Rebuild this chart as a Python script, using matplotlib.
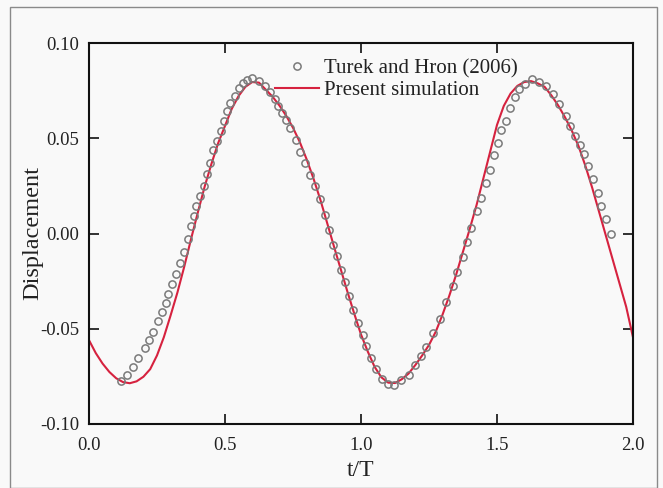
import matplotlib
matplotlib.use("Agg")
import matplotlib.pyplot as plt
from matplotlib.patches import Rectangle

# Reference data: Turek and Hron (2006)  (open circles)
ref_t = [0.116, 0.141, 0.163, 0.180, 0.205, 0.221, 0.236, 0.254, 0.270, 0.282,
         0.292, 0.306, 0.321, 0.333, 0.349, 0.363, 0.375, 0.387, 0.395, 0.407,
         0.422, 0.434, 0.444, 0.457, 0.469, 0.484, 0.496, 0.506, 0.520, 0.536,
         0.550, 0.565, 0.581, 0.599, 0.624, 0.646, 0.667, 0.683, 0.695, 0.710,
         0.724, 0.740, 0.761, 0.777, 0.795, 0.814, 0.832, 0.848, 0.869, 0.881,
         0.897, 0.912, 0.926, 0.940, 0.955, 0.971, 0.990, 1.007, 1.020, 1.036,
         1.056, 1.077, 1.099, 1.121, 1.146, 1.175, 1.200, 1.222, 1.240, 1.265,
         1.289, 1.314, 1.338, 1.354, 1.375, 1.391, 1.406, 1.428, 1.442, 1.458,
         1.473, 1.490, 1.503, 1.513, 1.532, 1.548, 1.565, 1.581, 1.602, 1.628,
         1.654, 1.679, 1.707, 1.728, 1.753, 1.768, 1.787, 1.805, 1.820, 1.836,
         1.854, 1.871, 1.884, 1.900, 1.918]
ref_y = [-0.0776, -0.0744, -0.0702, -0.0654, -0.0601, -0.0561, -0.0515, -0.0461, -0.0414, -0.0365,
         -0.0316, -0.0264, -0.0211, -0.0155, -0.0099, -0.0029, 0.0038, 0.0090, 0.0143, 0.0195,
         0.0248, 0.0312, 0.0370, 0.0440, 0.0487, 0.0536, 0.0589, 0.0641, 0.0685, 0.0723,
         0.0764, 0.0790, 0.0807, 0.0816, 0.0799, 0.0773, 0.0741, 0.0706, 0.0671, 0.0633,
         0.0594, 0.0554, 0.0492, 0.0426, 0.0370, 0.0309, 0.0248, 0.0181, 0.0099, 0.0020,
         -0.0059, -0.0120, -0.0190, -0.0256, -0.0330, -0.0400, -0.0470, -0.0531, -0.0592, -0.0654,
         -0.0711, -0.0764, -0.0788, -0.0794, -0.0771, -0.0741, -0.0689, -0.0645, -0.0596, -0.0522,
         -0.0449, -0.0361, -0.0274, -0.0204, -0.0125, -0.0043, 0.0029, 0.0117, 0.0186, 0.0265,
         0.0335, 0.0414, 0.0475, 0.0542, 0.0592, 0.0659, 0.0715, 0.0760, 0.0786, 0.0811,
         0.0795, 0.0776, 0.0732, 0.0680, 0.0618, 0.0563, 0.0513, 0.0466, 0.0417, 0.0356,
         0.0286, 0.0213, 0.0146, 0.0076, -0.0001]

# Present simulation (red line)
sim_t = [0.000, 0.025, 0.050, 0.075, 0.100, 0.125, 0.150, 0.175, 0.200, 0.225,
         0.250, 0.275, 0.300, 0.325, 0.350, 0.375, 0.400, 0.425, 0.450, 0.475,
         0.500, 0.525, 0.550, 0.575, 0.600, 0.625, 0.650, 0.675, 0.700, 0.725,
         0.750, 0.775, 0.800, 0.825, 0.850, 0.875, 0.900, 0.925, 0.950, 0.975,
         1.000, 1.025, 1.050, 1.075, 1.100, 1.125, 1.150, 1.175, 1.200, 1.225,
         1.250, 1.275, 1.300, 1.325, 1.350, 1.375, 1.400, 1.425, 1.450, 1.475,
         1.500, 1.525, 1.550, 1.575, 1.600, 1.625, 1.650, 1.675, 1.700, 1.725,
         1.750, 1.775, 1.800, 1.825, 1.850, 1.875, 1.900, 1.925, 1.950, 1.975,
         2.000]
sim_y = [-0.0560, -0.0628, -0.0683, -0.0727, -0.0760, -0.0780, -0.0786, -0.0776, -0.0752, -0.0712,
         -0.0640, -0.0545, -0.0430, -0.0310, -0.0175, -0.0030, 0.0110, 0.0245, 0.0365, 0.0475,
         0.0565, 0.0655, 0.0722, 0.0770, 0.0795, 0.0792, 0.0755, 0.0718, 0.0672, 0.0618,
         0.0555, 0.0480, 0.0390, 0.0290, 0.0180, 0.0058, -0.0065, -0.0185, -0.0305, -0.0420,
         -0.0530, -0.0620, -0.0700, -0.0755, -0.0783, -0.0785, -0.0765, -0.0735, -0.0690, -0.0640,
         -0.0585, -0.0515, -0.0425, -0.0325, -0.0215, -0.0095, 0.0025, 0.0150, 0.0290, 0.0430,
         0.0570, 0.0670, 0.0735, 0.0775, 0.0795, 0.0800, 0.0788, 0.0770, 0.0725, 0.0672,
         0.0610, 0.0540, 0.0458, 0.0355, 0.0240, 0.0115, -0.0010, -0.0135, -0.0260, -0.0385,
         -0.0545]

x_ticks = [0.0, 0.5, 1.0, 1.5, 2.0]
x_ticklabels = ["0.0", "0.5", "1.0", "1.5", "2.0"]
y_ticks = [-0.10, -0.05, 0.00, 0.05, 0.10]
y_ticklabels = ["-0.10", "-0.05", "0.00", "0.05", "0.10"]

plt.rcParams['font.family'] = ['Liberation Serif', 'DejaVu Serif']

bg = '#f9f9f9'
fig = plt.figure(figsize=(6.63, 4.88), dpi=100, facecolor=bg)
ax = fig.add_axes([89/663, 1-424/488, (633-89)/663, (424-43)/488])
ax.set_facecolor(bg)

ax.plot(sim_t, sim_y, color='#d6223f', lw=1.5, label='Present simulation', zorder=2)
ax.plot(ref_t, ref_y, ls='none', marker='o', ms=5.2, mfc='none', mec='#7a7a7a',
        mew=1.1, label='Turek and Hron (2006)', zorder=3)

ax.set_xlim(0, 2.0)
ax.set_ylim(-0.10, 0.10)
ax.set_xticks(x_ticks)
ax.set_xticklabels(x_ticklabels)
ax.set_yticks(y_ticks)
ax.set_yticklabels(y_ticklabels)
ax.tick_params(direction='in', length=7, width=1.3, labelsize=13.5,
               top=True, right=True, colors='#222222', pad=7)
ax.tick_params(axis='x', pad=9)
for s in ax.spines.values():
    s.set_linewidth(1.5)
    s.set_color('#111111')

ax.set_xlabel('t/T', fontsize=17, color='#222222', labelpad=5)
ax.set_ylabel('Displacement', fontsize=17.5, color='#222222', labelpad=-2.5)

h, l = ax.get_legend_handles_labels()
leg = ax.legend([h[1], h[0]], [l[1], l[0]], loc='upper left',
                bbox_to_anchor=((275-89)/544, (424-59)/381), frameon=False, fontsize=15,
                handlelength=2.1, handletextpad=0.25, labelspacing=0.1,
                borderaxespad=0.0, borderpad=0.0)
for t in leg.get_texts():
    t.set_color('#222222')

fig.patches.append(Rectangle((10/663, 0.0), (657-10)/663, 1-7/488,
                             transform=fig.transFigure, fill=False,
                             edgecolor='#8a8a8a', lw=1.0, zorder=0))

fig.savefig('out.png', dpi=100, facecolor=bg)
